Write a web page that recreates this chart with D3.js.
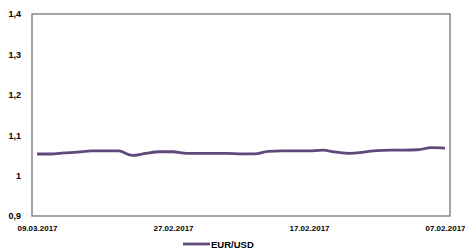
<!DOCTYPE html>
<html>
<head>
<meta charset="utf-8">
<title>EUR/USD</title>
<script src="https://cdn.jsdelivr.net/npm/d3@7"></script>
<style>
  body { margin: 0; background: #fff; }
  text { font-family: "Liberation Sans", Arial, sans-serif; font-weight: bold; fill: #000; }
</style>
</head>
<body>
<svg width="465" height="251"></svg>
<script>
// daily values, newest first (09.03.2017 -> 07.02.2017)
var dates = ["09.03.2017","08.03.2017","07.03.2017","06.03.2017","05.03.2017","04.03.2017","03.03.2017",
             "02.03.2017","01.03.2017","28.02.2017","27.02.2017","26.02.2017","25.02.2017","24.02.2017",
             "23.02.2017","22.02.2017","21.02.2017","20.02.2017","19.02.2017","18.02.2017","17.02.2017",
             "16.02.2017","15.02.2017","14.02.2017","13.02.2017","12.02.2017","11.02.2017","10.02.2017",
             "09.02.2017","08.02.2017","07.02.2017"];
var eurusd = [1.0535,1.0535,1.056,1.058,1.061,1.061,1.061,1.050,1.055,1.059,1.059,1.055,1.055,1.055,
              1.055,1.054,1.054,1.060,1.061,1.061,1.061,1.063,1.058,1.055,1.058,1.062,1.063,1.063,
              1.064,1.069,1.068];
var xTickLabels = ["09.03.2017","27.02.2017","17.02.2017","07.02.2017"];
var yTicks = [0.9, 1, 1.1, 1.2, 1.3, 1.4];
var seriesName = "EUR/USD";

var svg = d3.select("svg");
var plotLeft = 32, plotRight = 450, plotTop = 14, plotBottom = 216;

var x = d3.scalePoint().domain(dates).range([37, 445]);
var y = d3.scaleLinear().domain([0.9, 1.4]).range([plotBottom, plotTop]);

// plot frame
svg.append("rect")
   .attr("x", plotLeft).attr("y", plotTop)
   .attr("width", plotRight - plotLeft).attr("height", plotBottom - plotTop)
   .attr("fill", "none").attr("stroke", "#868686").attr("stroke-width", 1.5);

// y axis labels
var fmt = function(d) { return String(d).replace(".", ","); };
svg.append("g")
   .attr("transform", "translate(" + plotLeft + ",0)")
   .call(d3.axisLeft(y).tickValues(yTicks).tickSize(0).tickPadding(11).tickFormat(fmt))
   .call(function(g) { g.select(".domain").remove(); })
   .selectAll("text")
   .style("font-size", "9px").style("font-family", "Liberation Sans, Arial, sans-serif")
   .style("font-weight", "bold").attr("fill", "#000");

// x axis labels
svg.append("g")
   .attr("transform", "translate(0," + plotBottom + ")")
   .call(d3.axisBottom(x).tickValues(xTickLabels).tickSize(0).tickPadding(9))
   .call(function(g) { g.select(".domain").remove(); })
   .selectAll("text")
   .style("font-size", "8px").style("font-family", "Liberation Sans, Arial, sans-serif")
   .style("font-weight", "bold").attr("fill", "#000");

// line
var line = d3.line()
   .x(function(d, i) { return x(dates[i]); })
   .y(function(d) { return y(d); })
   .curve(d3.curveMonotoneX);

svg.append("path")
   .datum(eurusd)
   .attr("d", line)
   .attr("fill", "none")
   .attr("stroke", "#5f497a")
   .attr("stroke-width", 2.8);

// legend
svg.append("line")
   .attr("x1", 183).attr("x2", 210).attr("y1", 244).attr("y2", 244)
   .attr("stroke", "#5f497a").attr("stroke-width", 2.8);
svg.append("text")
   .attr("x", 211).attr("y", 247.5)
   .style("font-size", "9.5px")
   .text(seriesName);
</script>
</body>
</html>
